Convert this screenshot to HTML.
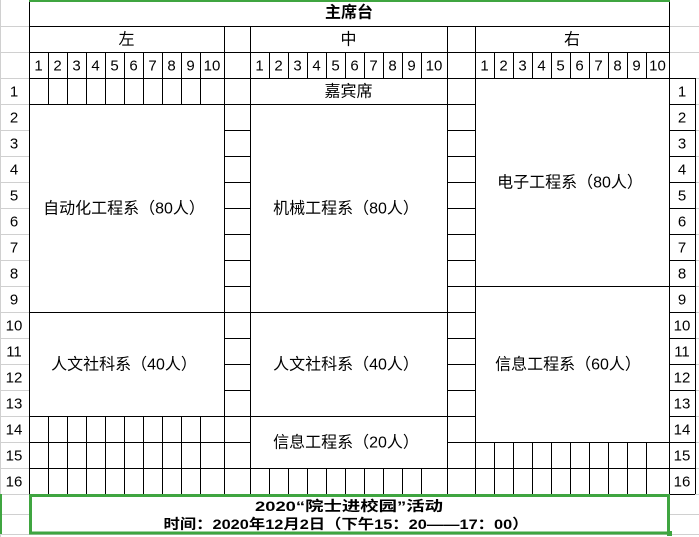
<!DOCTYPE html>
<html><head><meta charset="utf-8"><style>
html,body{margin:0;padding:0;background:#fff;width:699px;height:537px;overflow:hidden}
svg{display:block}
text{font-family:"Liberation Sans","Noto Sans CJK SC",sans-serif;font-size:15px;fill:#000;text-anchor:middle;dominant-baseline:central}
.b{font-weight:bold}
.l{font-size:16px}
</style></head><body>
<svg width="699" height="537" viewBox="0 0 699 537" xmlns="http://www.w3.org/2000/svg">
<g stroke="#d0d0d0" stroke-width="1">
<path d="M0.5 0V537M0 26.5H29M0 52.5H29M0 78.5H29M0 104.5H29M0 130.5H29M0 156.5H29M0 182.5H29M0 208.5H29M0 234.5H29M0 260.5H29M0 286.5H29M0 312.5H29M0 338.5H29M0 364.5H29M0 390.5H29M0 416.5H29M0 442.5H29M0 468.5H29M0 494.5H29M0 514.5H29M0 534.5H699M669 26.5H699M669 52.5H699M695 78.5H699M695 104.5H699M695 130.5H699M695 156.5H699M695 182.5H699M695 208.5H699M695 234.5H699M695 260.5H699M695 286.5H699M695 312.5H699M695 338.5H699M695 364.5H699M695 390.5H699M695 416.5H699M695 442.5H699M695 468.5H699M695 494.5H699M669 514.5H699"/>
</g>
<g stroke="#000" stroke-width="1" fill="none">
<path d="M29.5 0V494M669.5 0V494M695.5 78V494M224.5 26V494M250.5 26V494M447.5 26V494M475.5 26V494"/>
<path d="M29 26.5H669M29 52.5H669M29 78.5H695M29 104.5H475M29 312.5H475M29 416.5H475M29 442.5H250M447 442.5H669M29 468.5H669M29 494.5H695M475 286.5H669"/>
<path d="M224 130.5H250M224 156.5H250M224 182.5H250M224 208.5H250M224 234.5H250M224 260.5H250M224 286.5H250M224 338.5H250M224 364.5H250M224 390.5H250"/>
<path d="M447 130.5H475M447 156.5H475M447 182.5H475M447 208.5H475M447 234.5H475M447 260.5H475M447 286.5H475M447 338.5H475M447 364.5H475M447 390.5H475"/>
<path d="M669 104.5H695M669 130.5H695M669 156.5H695M669 182.5H695M669 208.5H695M669 234.5H695M669 260.5H695M669 286.5H695M669 312.5H695M669 338.5H695M669 364.5H695M669 390.5H695M669 416.5H695M669 442.5H695M669 468.5H695"/>
<path d="M48.5 52V104M67.5 52V104M86.5 52V104M105.5 52V104M124.5 52V104M143.5 52V104M162.5 52V104M181.5 52V104M200.5 52V104"/>
<path d="M48.5 416V494M67.5 416V494M86.5 416V494M105.5 416V494M124.5 416V494M143.5 416V494M162.5 416V494M181.5 416V494M200.5 416V494"/>
<path d="M269.5 52V78M288.5 52V78M307.5 52V78M326.5 52V78M345.5 52V78M364.5 52V78M383.5 52V78M402.5 52V78M421.5 52V78"/>
<path d="M269.5 468V494M288.5 468V494M307.5 468V494M326.5 468V494M345.5 468V494M364.5 468V494M383.5 468V494M402.5 468V494M421.5 468V494"/>
<path d="M494.5 52V78M513.5 52V78M532.5 52V78M551.5 52V78M570.5 52V78M589.5 52V78M608.5 52V78M627.5 52V78M646.5 52V78"/>
<path d="M494.5 442V494M513.5 442V494M532.5 442V494M551.5 442V494M570.5 442V494M589.5 442V494M608.5 442V494M627.5 442V494M646.5 442V494"/>
</g>
<line x1="29" y1="1" x2="670" y2="1" stroke="#3fa540" stroke-width="2"/>
<line x1="1" y1="494" x2="1" y2="534" stroke="#3fa540" stroke-width="2"/>
<rect x="30.5" y="495.5" width="638" height="37.5" fill="#fff" stroke="#3fa540" stroke-width="3"/>
<rect x="667" y="531" width="5" height="5" fill="#3fa540"/>

<text class="b" x="349" y="13" style="font-size:16px">主席台</text>
<text x="126.5" y="40" class="l">左</text><text x="348.5" y="40" class="l">中</text><text x="572" y="40" class="l">右</text>

<g>
<text x="38.5" y="66">1</text><text x="57.5" y="66">2</text><text x="76.5" y="66">3</text><text x="95.5" y="66">4</text><text x="114.5" y="66">5</text><text x="133.5" y="66">6</text><text x="152.5" y="66">7</text><text x="171.5" y="66">8</text><text x="190.5" y="66">9</text><text x="212" y="66">10</text>
<text x="259.5" y="66">1</text><text x="278.5" y="66">2</text><text x="297.5" y="66">3</text><text x="316.5" y="66">4</text><text x="335.5" y="66">5</text><text x="354.5" y="66">6</text><text x="373.5" y="66">7</text><text x="392.5" y="66">8</text><text x="411.5" y="66">9</text><text x="434" y="66">10</text>
<text x="484.5" y="66">1</text><text x="503.5" y="66">2</text><text x="522.5" y="66">3</text><text x="541.5" y="66">4</text><text x="560.5" y="66">5</text><text x="579.5" y="66">6</text><text x="598.5" y="66">7</text><text x="617.5" y="66">8</text><text x="636.5" y="66">9</text><text x="657.5" y="66">10</text>
</g>

<g>
<text x="14" y="92">1</text><text x="14" y="118">2</text><text x="14" y="144">3</text><text x="14" y="170">4</text><text x="14" y="196">5</text><text x="14" y="222">6</text><text x="14" y="248">7</text><text x="14" y="274">8</text><text x="14" y="300">9</text><text x="14" y="326">10</text><text x="14" y="352">11</text><text x="14" y="378">12</text><text x="14" y="404">13</text><text x="14" y="430">14</text><text x="14" y="456">15</text><text x="14" y="482">16</text>
<text x="682" y="92">1</text><text x="682" y="118">2</text><text x="682" y="144">3</text><text x="682" y="170">4</text><text x="682" y="196">5</text><text x="682" y="222">6</text><text x="682" y="248">7</text><text x="682" y="274">8</text><text x="682" y="300">9</text><text x="682" y="326">10</text><text x="682" y="352">11</text><text x="682" y="378">12</text><text x="682" y="404">13</text><text x="682" y="430">14</text><text x="682" y="456">15</text><text x="682" y="482">16</text>
</g>

<text class="l" x="348.5" y="92">嘉宾席</text>
<text class="l" x="124" y="209">自动化工程系（80人）</text>
<text class="l" x="346" y="209">机械工程系（80人）</text>
<text class="l" x="570" y="183">电子工程系（80人）</text>
<text class="l" x="124" y="365">人文社科系（40人）</text>
<text class="l" x="346" y="365">人文社科系（40人）</text>
<text class="l" x="568" y="365">信息工程系（60人）</text>
<text class="l" x="346" y="443">信息工程系（20人）</text>

<text class="b" x="349" y="506" textLength="188" lengthAdjust="spacingAndGlyphs" style="font-size:14px">2020“院士进校园”活动</text>
<text class="b" x="346" y="524" textLength="365" lengthAdjust="spacingAndGlyphs" style="font-size:14px">时间：2020年12月2日（下午15：20——17：00）</text>
</svg>
</body></html>
